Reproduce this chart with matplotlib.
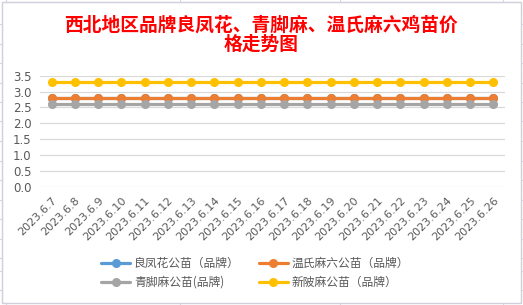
import matplotlib.pyplot as plt
from matplotlib.patches import Rectangle
from matplotlib.lines import Line2D

plt.rcParams['font.family'] = ['Noto Sans CJK SC', 'DejaVu Sans']

# data
dates = ["2023.6.7", "2023.6.8", "2023.6.9", "2023.6.10", "2023.6.11", "2023.6.12",
         "2023.6.13", "2023.6.14", "2023.6.15", "2023.6.16", "2023.6.17", "2023.6.18",
         "2023.6.19", "2023.6.20", "2023.6.21", "2023.6.22", "2023.6.23", "2023.6.24",
         "2023.6.25", "2023.6.26"]
liangfenghua = [2.8] * 20   # 良凤花公苗（品牌）
wenshi = [2.8] * 20         # 温氏麻六公苗（品牌）
qingjiao = [2.6] * 20       # 青脚麻公苗(品牌)
xinpi = [3.3] * 20          # 新陂麻公苗（品牌）

series = [
    ("良凤花公苗（品牌）", liangfenghua, "#5B9BD5"),
    ("温氏麻六公苗（品牌）", wenshi, "#ED7D31"),
    ("青脚麻公苗(品牌)", qingjiao, "#A5A5A5"),
    ("新陂麻公苗（品牌）", xinpi, "#FFC000"),
]

fig = plt.figure(figsize=(5.23, 3.05), dpi=100)

# faint spreadsheet grid around the chart
for yy in [24, 43.5, 63, 82.5, 102, 121.5, 141, 160.5, 180, 199.5, 219, 238.5, 258, 271, 290]:
    fig.add_artist(Line2D([0, 2 / 523], [1 - yy / 305] * 2, color="#D4D4E4", lw=0.8))
    fig.add_artist(Line2D([521 / 523, 1], [1 - yy / 305] * 2, color="#D4D4E4", lw=0.8))
for xx in [6, 180, 340, 503]:
    fig.add_artist(Line2D([xx / 523] * 2, [1 - 2 / 305, 1], color="#D4D4E4", lw=0.8))
    fig.add_artist(Line2D([xx / 523] * 2, [0, 2 / 305], color="#D4D4E4", lw=0.8))

# chart border
fig.add_artist(Rectangle((2 / 523, 2 / 305), 519 / 523, 301 / 305, transform=fig.transFigure,
                         fill=False, edgecolor="#D0D0DC", lw=1.0))

ax = fig.add_axes([40 / 523, 1 - 186.7 / 305, 465 / 523, 111 / 305])

x = list(range(len(dates)))
handles = {}
for name, vals, col in series:
    h, = ax.plot(x, vals, color=col, lw=2.3, marker="o", markersize=5.5,
                 solid_capstyle="round", label=name, zorder=3)
    handles[name] = h

ax.set_xlim(-0.5, len(dates) - 0.5)
ax.set_ylim(0, 3.5)
ax.set_yticks([0, 0.5, 1.0, 1.5, 2.0, 2.5, 3.0, 3.5])
ax.set_yticklabels([f"{v:.1f}" for v in ax.get_yticks()], fontsize=8.5, color="#595959",
                   family=["DejaVu Sans"])
ax.set_xticks(x)
ax.set_xticklabels(dates, rotation=45, ha="right", rotation_mode="anchor",
                   fontsize=8, color="#595959", family=["DejaVu Sans"])
ax.tick_params(axis="both", length=0)
ax.tick_params(axis="x", pad=6)
ax.tick_params(axis="y", pad=6)
ax.grid(axis="y", color="#D9D9D9", lw=0.9)
ax.set_axisbelow(True)
for s in ax.spines.values():
    s.set_visible(False)

fig.text(0.499, 1 - 35 / 305, "西北地区品牌良凤花、青脚麻、温氏麻六鸡苗价\n格走势图",
         ha="center", va="center", color="#FF0000", fontsize=13.5, fontweight="bold",
         linespacing=1.0)

order = ["良凤花公苗（品牌）", "青脚麻公苗(品牌)", "温氏麻六公苗（品牌）", "新陂麻公苗（品牌）"]
leg = fig.legend([handles[n] for n in order], order, ncol=2, loc="center",
                 bbox_to_anchor=(255 / 523, 1 - 273 / 305), frameon=False,
                 fontsize=8.5, handlelength=2.5, columnspacing=1.6, labelspacing=0.45,
                 handletextpad=0.3)
for t in leg.get_texts():
    t.set_color("#595959")

fig.savefig("out.png", dpi=100)
